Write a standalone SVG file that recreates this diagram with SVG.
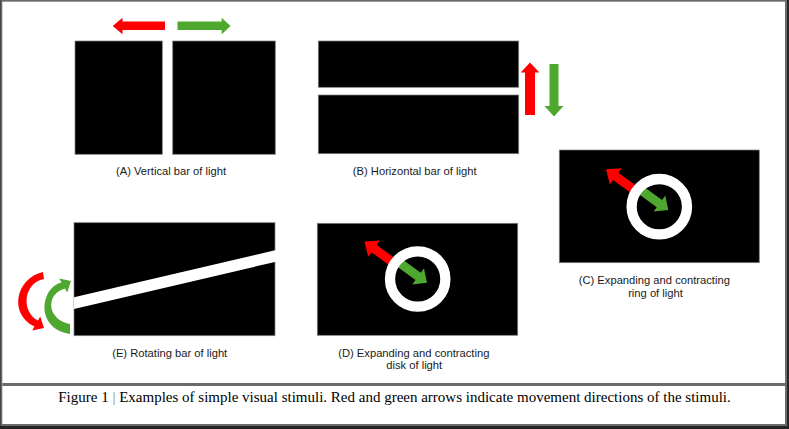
<svg xmlns="http://www.w3.org/2000/svg" width="789" height="429" viewBox="0 0 789 429">
<defs>
<style>
.scr{fill:#000;stroke:#808080;stroke-width:0.75}
.lbl{font-family:"Liberation Sans",Arial,sans-serif;font-size:11.2px;fill:#1a1a1a;text-anchor:middle}
.cap{font-family:"Liberation Serif","Times New Roman",serif;font-size:15px;fill:#000}
.red{fill:#ff0000}
.grn{fill:#4ea72e}
</style>
<path id="redArrow" d="M0,0 L-12,-10 L-12,-4.5 L-40,-4.5 L-40,4.5 L-12,4.5 L-12,10 Z"/>
<path id="grnArrow" d="M0,0 L-11,-10 L-11,-4.5 L-36,-4.5 L-36,4.5 L-11,4.5 L-11,10 Z"/>
</defs>
<rect width="789" height="429" fill="#262626"/>
<rect x="0" y="0" width="787" height="426" fill="#6b6b6b"/>
<rect x="0" y="0" width="1" height="426" fill="#444"/>
<rect x="2.3" y="1.7" width="782.7" height="422.3" fill="#fff"/>
<rect x="2.3" y="383" width="782.7" height="3" fill="#6b6b6b"/>

<g id="panelA">
<rect class="scr" x="75" y="41" width="87.3" height="113.3"/>
<rect class="scr" x="172.7" y="41" width="102.6" height="113.3"/>
<path class="red" d="M112.7,26 L122.5,17.7 L122.5,21.6 L165,21.6 L165,30 L122.5,30 L122.5,34.3 Z"/>
<path class="grn" d="M230.5,26 L221.7,17.7 L221.7,21.6 L177.5,21.6 L177.5,30 L221.7,30 L221.7,34.3 Z"/>
<text class="lbl" x="171" y="174.5">(A) Vertical bar of light</text>
</g>

<g id="panelB">
<rect class="scr" x="318.3" y="41" width="200.4" height="46.3"/>
<rect class="scr" x="318.3" y="95" width="200.4" height="58.7"/>
<path class="red" d="M530,62.5 L539.3,72.5 L535,72.5 L535,115 L525,115 L525,72.5 L520.7,72.5 Z"/>
<path class="grn" d="M554,116.5 L563.5,106 L558.5,106 L558.5,64 L549.5,64 L549.5,106 L544.5,106 Z"/>
<text class="lbl" x="414.7" y="174.5">(B) Horizontal bar of light</text>
</g>

<g id="panelC">
<rect class="scr" x="559.3" y="150" width="200" height="112.7"/>
<use href="#redArrow" class="red" transform="translate(606,169.3) rotate(216)"/>
<use href="#grnArrow" class="grn" transform="translate(668.3,210) rotate(36)"/>
<circle cx="659.3" cy="206.7" r="27.7" fill="none" stroke="#fff" stroke-width="10.3"/>
<text class="lbl" x="654.3" y="284">(C) Expanding and contracting</text>
<text class="lbl" x="655.5" y="296.5">ring of light</text>
</g>

<g id="panelD">
<rect class="scr" x="317.3" y="223.3" width="200.4" height="112"/>
<use href="#redArrow" class="red" transform="translate(364.4,241.6) rotate(216)"/>
<use href="#grnArrow" class="grn" transform="translate(427,282.8) rotate(36)"/>
<circle cx="417.7" cy="279" r="27.7" fill="none" stroke="#fff" stroke-width="10.3"/>
<text class="lbl" x="413.8" y="356.5">(D) Expanding and contracting</text>
<text class="lbl" x="414.2" y="369">disk of light</text>
</g>

<g id="panelE">
<rect class="scr" x="74" y="222.7" width="201" height="113"/>
<path fill="#fff" d="M74,297.3 L276,250 L276,261.7 L74,309 Z"/>
<path class="red" d="M43,272 C16,278 8,314 34.5,326.5 L32.2,330.5 L44,328 L40.2,316.5 L38,320.5 C21,312 23,283 44,279 Z"/>
<path class="grn" d="M61.5,282.5 L59.2,278.5 L71,281 L67.2,292.5 L65,288.5 C45,294 47,320 70,324 L70,334 C34,328 41,287 61.5,282.5 Z"/>
<text class="lbl" x="169.7" y="356.5">(E) Rotating bar of light</text>
</g>

<g id="caption">
<text class="cap" x="394.5" y="401.5" text-anchor="middle">Figure 1 <tspan fill="#8a8a8a">|</tspan> Examples of simple visual stimuli. Red and green arrows indicate movement directions of the stimuli.</text>
</g>
</svg>
